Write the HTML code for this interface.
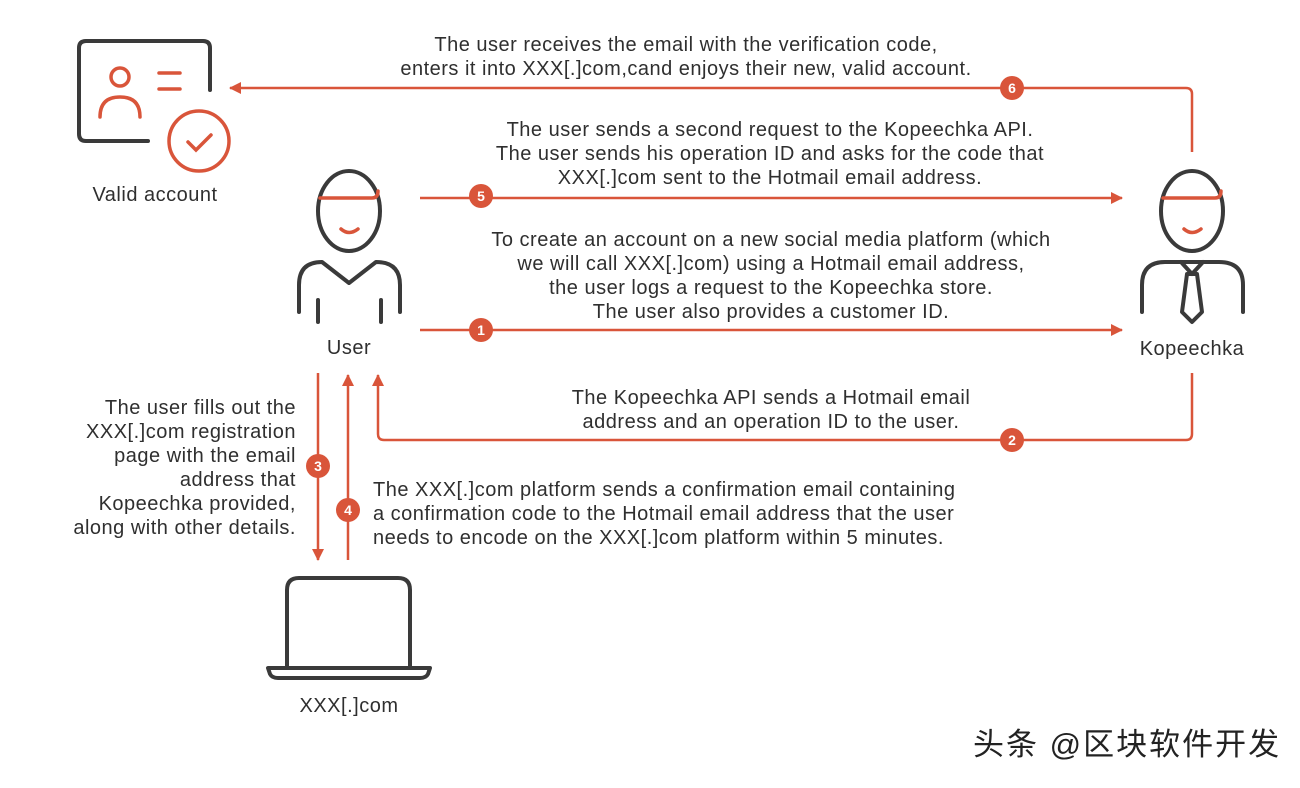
<!DOCTYPE html>
<html><head><meta charset="utf-8"><style>
body{margin:0;background:#fff;width:1300px;height:783px;overflow:hidden}
svg text{font-family:"Liberation Sans","Noto Sans CJK SC",sans-serif;fill:#2f2f2f;font-size:20px;letter-spacing:0.5px}
</style></head><body>
<svg width="1300" height="783" viewBox="0 0 1300 783">
<defs><marker id="a" markerWidth="14" markerHeight="14" refX="11" refY="6" orient="auto" markerUnits="userSpaceOnUse"><path d="M0,0 L12,6 L0,12 Z" fill="#d9553a"/></marker></defs>
<g fill="none" stroke="#3a3a3a" stroke-width="4" stroke-linecap="round" stroke-linejoin="round">
<path d="M148,141 H86 Q79,141 79,134 V48 Q79,41 86,41 H203 Q210,41 210,48 V90"/>
<ellipse cx="349" cy="211" rx="31" ry="40"/>
<path d="M299,312 V285 Q299,262 322,262 L349,283 L376,262 Q400,262 400,285 V312"/>
<path d="M318,300 V322 M381,300 V322"/>
<ellipse cx="1192" cy="211" rx="31" ry="40"/>
<path d="M1142,312 V285 Q1142,262 1165,262 H1219 Q1243,262 1243,285 V312"/>
<path d="M1181,262 L1192,274 L1203,262 M1187,274 L1182,312 L1192,322 L1202,312 L1197,274 Z"/>
<path d="M287,668 V590 Q287,578 299,578 H398 Q410,578 410,590 V668"/>
<path d="M268,668 H430 L428,674 Q426,678 420,678 H278 Q272,678 270,674 Z"/>
</g>
<g fill="none" stroke="#d9553a" stroke-width="3.5" stroke-linecap="round">
<circle cx="120" cy="77" r="9"/>
<path d="M100,117 Q100,97 120,97 Q140,97 140,117"/>
<path d="M159,73 H180 M159,89 H180"/>
<circle cx="199" cy="141" r="30"/>
<path d="M188,142 L196,150 L211,135"/>
<path d="M320,198 H372 Q378,198 378,191"/>
<path d="M341,229 Q349,236 358,229"/>
<path d="M1163,198 H1215 Q1221,198 1221,191"/>
<path d="M1184,229 Q1192,236 1201,229"/>
</g>
<g fill="none" stroke="#d9553a" stroke-width="2.5">
<path d="M1192,152 V94 Q1192,88 1186,88 H230" marker-end="url(#a)"/>
<path d="M420,198 H1122" marker-end="url(#a)"/>
<path d="M420,330 H1122" marker-end="url(#a)"/>
<path d="M1192,373 V434 Q1192,440 1186,440 H384 Q378,440 378,434 V375" marker-end="url(#a)"/>
<path d="M318,373 V560" marker-end="url(#a)"/>
<path d="M348,560 V375" marker-end="url(#a)"/>
</g>
<g fill="#d9553a">
<circle cx="1012" cy="88" r="12"/><circle cx="481" cy="196" r="12"/><circle cx="481" cy="330" r="12"/>
<circle cx="1012" cy="440" r="12"/><circle cx="318" cy="466" r="12"/><circle cx="348" cy="510" r="12"/>
</g>
<g text-anchor="middle">
<text x="1012" y="93" style="fill:#fff;font-size:14px;font-weight:bold;letter-spacing:0">6</text>
<text x="481" y="201" style="fill:#fff;font-size:14px;font-weight:bold;letter-spacing:0">5</text>
<text x="481" y="335" style="fill:#fff;font-size:14px;font-weight:bold;letter-spacing:0">1</text>
<text x="1012" y="445" style="fill:#fff;font-size:14px;font-weight:bold;letter-spacing:0">2</text>
<text x="318" y="471" style="fill:#fff;font-size:14px;font-weight:bold;letter-spacing:0">3</text>
<text x="348" y="515" style="fill:#fff;font-size:14px;font-weight:bold;letter-spacing:0">4</text>
</g>
<g text-anchor="middle">
<text x="155" y="201">Valid account</text>
<text x="349" y="354">User</text>
<text x="1192" y="355">Kopeechka</text>
<text x="349" y="712">XXX[.]com</text>
<text x="686" y="51">The user receives the email with the verification code,</text>
<text x="686" y="75">enters it into XXX[.]com,cand enjoys their new, valid account.</text>
<text x="770" y="136">The user sends a second request to the Kopeechka API.</text>
<text x="770" y="160">The user sends his operation ID and asks for the code that</text>
<text x="770" y="184">XXX[.]com sent to the Hotmail email address.</text>
<text x="771" y="246">To create an account on a new social media platform (which</text>
<text x="771" y="270">we will call XXX[.]com) using a Hotmail email address,</text>
<text x="771" y="294">the user logs a request to the Kopeechka store.</text>
<text x="771" y="318">The user also provides a customer ID.</text>
<text x="771" y="404">The Kopeechka API sends a Hotmail email</text>
<text x="771" y="428">address and an operation ID to the user.</text>
</g>
<g text-anchor="end">
<text x="296" y="414">The user fills out the</text>
<text x="296" y="438">XXX[.]com registration</text>
<text x="296" y="462">page with the email</text>
<text x="296" y="486">address that</text>
<text x="296" y="510">Kopeechka provided,</text>
<text x="296" y="534">along with other details.</text>
</g>
<text x="373" y="496">The XXX[.]com platform sends a confirmation email containing</text>
<text x="373" y="520">a confirmation code to the Hotmail email address that the user</text>
<text x="373" y="544">needs to encode on the XXX[.]com platform within 5 minutes.</text>
<text x="973" y="755" style="font-size:31px;fill:#222;letter-spacing:2px">头条 @区块软件开发</text>
</svg>
</body></html>
